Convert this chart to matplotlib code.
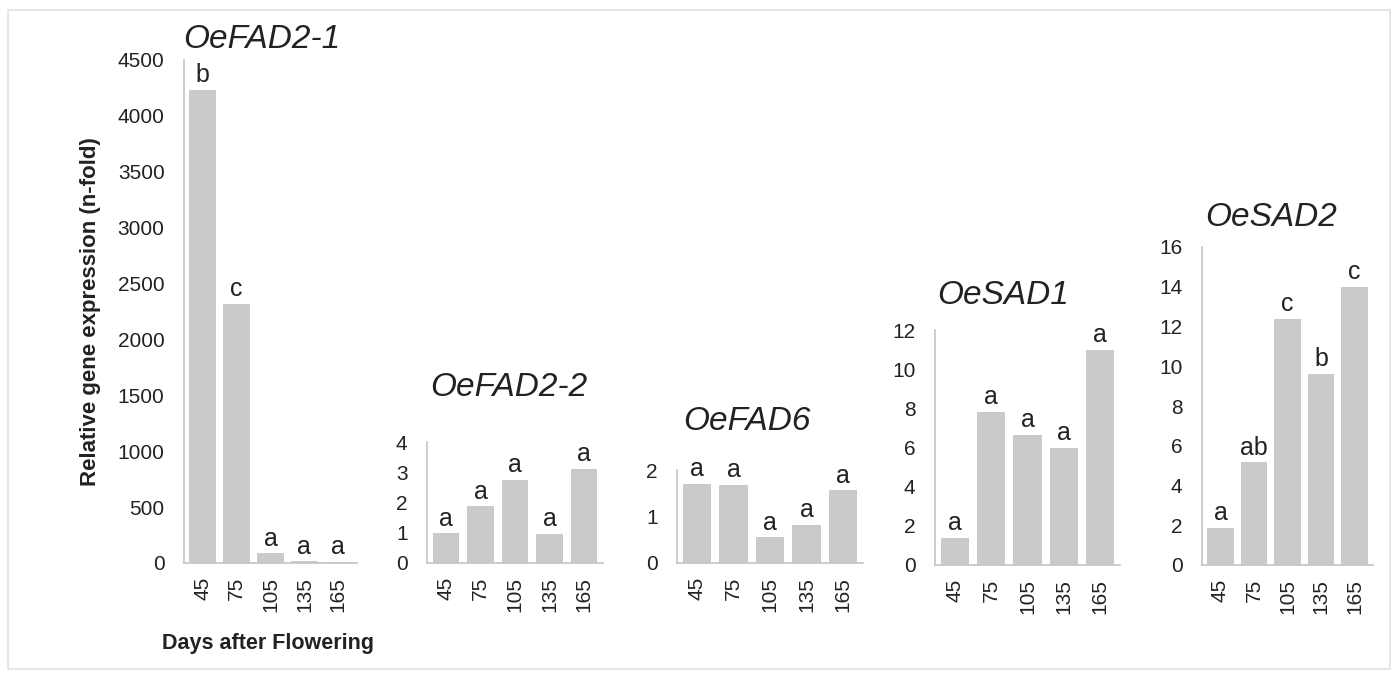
import numpy as np
import matplotlib.pyplot as plt
from matplotlib.patches import Rectangle

plt.rcParams['font.family'] = ['Liberation Sans', 'DejaVu Sans']

days = ["45", "75", "105", "135", "165"]

genes = ["OeFAD2-1", "OeFAD2-2", "OeFAD6", "OeSAD1", "OeSAD2"]
fad2_1 = [4230, 2320, 85, 15, 10]
fad2_2 = [0.98, 1.87, 2.75, 0.95, 3.1]
fad6 = [1.7, 1.68, 0.55, 0.82, 1.56]
sad1 = [1.4, 7.83, 6.64, 6.0, 11.0]
sad2 = [1.88, 5.16, 12.4, 9.63, 14.0]

fad2_1_letters = ["b", "c", "a", "a", "a"]
fad2_2_letters = ["a", "a", "a", "a", "a"]
fad6_letters = ["a", "a", "a", "a", "a"]
sad1_letters = ["a", "a", "a", "a", "a"]
sad2_letters = ["a", "ab", "c", "b", "c"]

values = [fad2_1, fad2_2, fad6, sad1, sad2]
letters = [fad2_1_letters, fad2_2_letters, fad6_letters, sad1_letters, sad2_letters]
ymax = [4500, 4, 2, 12, 16]
ystep = [500, 1, 1, 2, 2]

W, H = 1398, 679
# axes boxes in pixels: left, right, top, bottom
boxes = [(184, 357, 60, 563),
         (427, 603, 442, 563),
         (677, 863, 470, 563),
         (935, 1120, 330, 565),
         (1202, 1373, 247, 565)]
# gene title positions (left x, centre y) in pixels
title_pos = [(183, 40), (430, 388), (683, 422), (937, 295), (1205, 217)]

fig = plt.figure(figsize=(W / 100, H / 100), dpi=100)
fig.patches.append(Rectangle((8 / W, 10 / H), (W - 16) / W, (H - 20) / H,
                             transform=fig.transFigure, fill=False,
                             edgecolor='#e2e2e2', linewidth=1.2))

bar_color = '#cacaca'
spine_color = '#c4c4c4'
text_color = '#222222'

for i in range(5):
    l, r, t, b = boxes[i]
    ax = fig.add_axes([l / W, (H - b) / H, (r - l) / W, (b - t) / H])
    x = np.arange(len(days))
    ax.bar(x, values[i], width=0.78, color=bar_color)
    ax.set_xlim(-0.55, 4.55)
    ax.set_ylim(0, ymax[i])
    ax.set_yticks(np.arange(0, ymax[i] + 0.01, ystep[i]))
    ax.set_xticks(x)
    ax.set_xticklabels(days, rotation=90, fontsize=15, color=text_color)
    ax.tick_params(axis='y', labelsize=15, labelcolor=text_color, length=0, pad=14)
    ax.tick_params(axis='x', length=0, pad=10)
    for s in ['top', 'right']:
        ax.spines[s].set_visible(False)
    for s in ['left', 'bottom']:
        ax.spines[s].set_color(spine_color)
        ax.spines[s].set_linewidth(1.2)
    for xi, v, lab in zip(x, values[i], letters[i]):
        ax.annotate(lab, (xi, v), xytext=(0, 2), textcoords='offset points',
                    ha='center', va='bottom', fontsize=18, color=text_color)
    tx, ty = title_pos[i]
    fig.text(tx / W, 1 - ty / H, genes[i], fontsize=24, style='italic',
             color=text_color, ha='left', va='center')
    if i == 0:
        ax.set_ylabel("Relative gene expression (n-fold)", fontsize=16,
                      fontweight='bold', color=text_color, labelpad=12)

fig.text(268 / W, 1 - 643 / H, "Days after Flowering", fontsize=15.5,
         fontweight='bold', color=text_color, ha='center', va='center')

fig.savefig("out.png", dpi=100)
